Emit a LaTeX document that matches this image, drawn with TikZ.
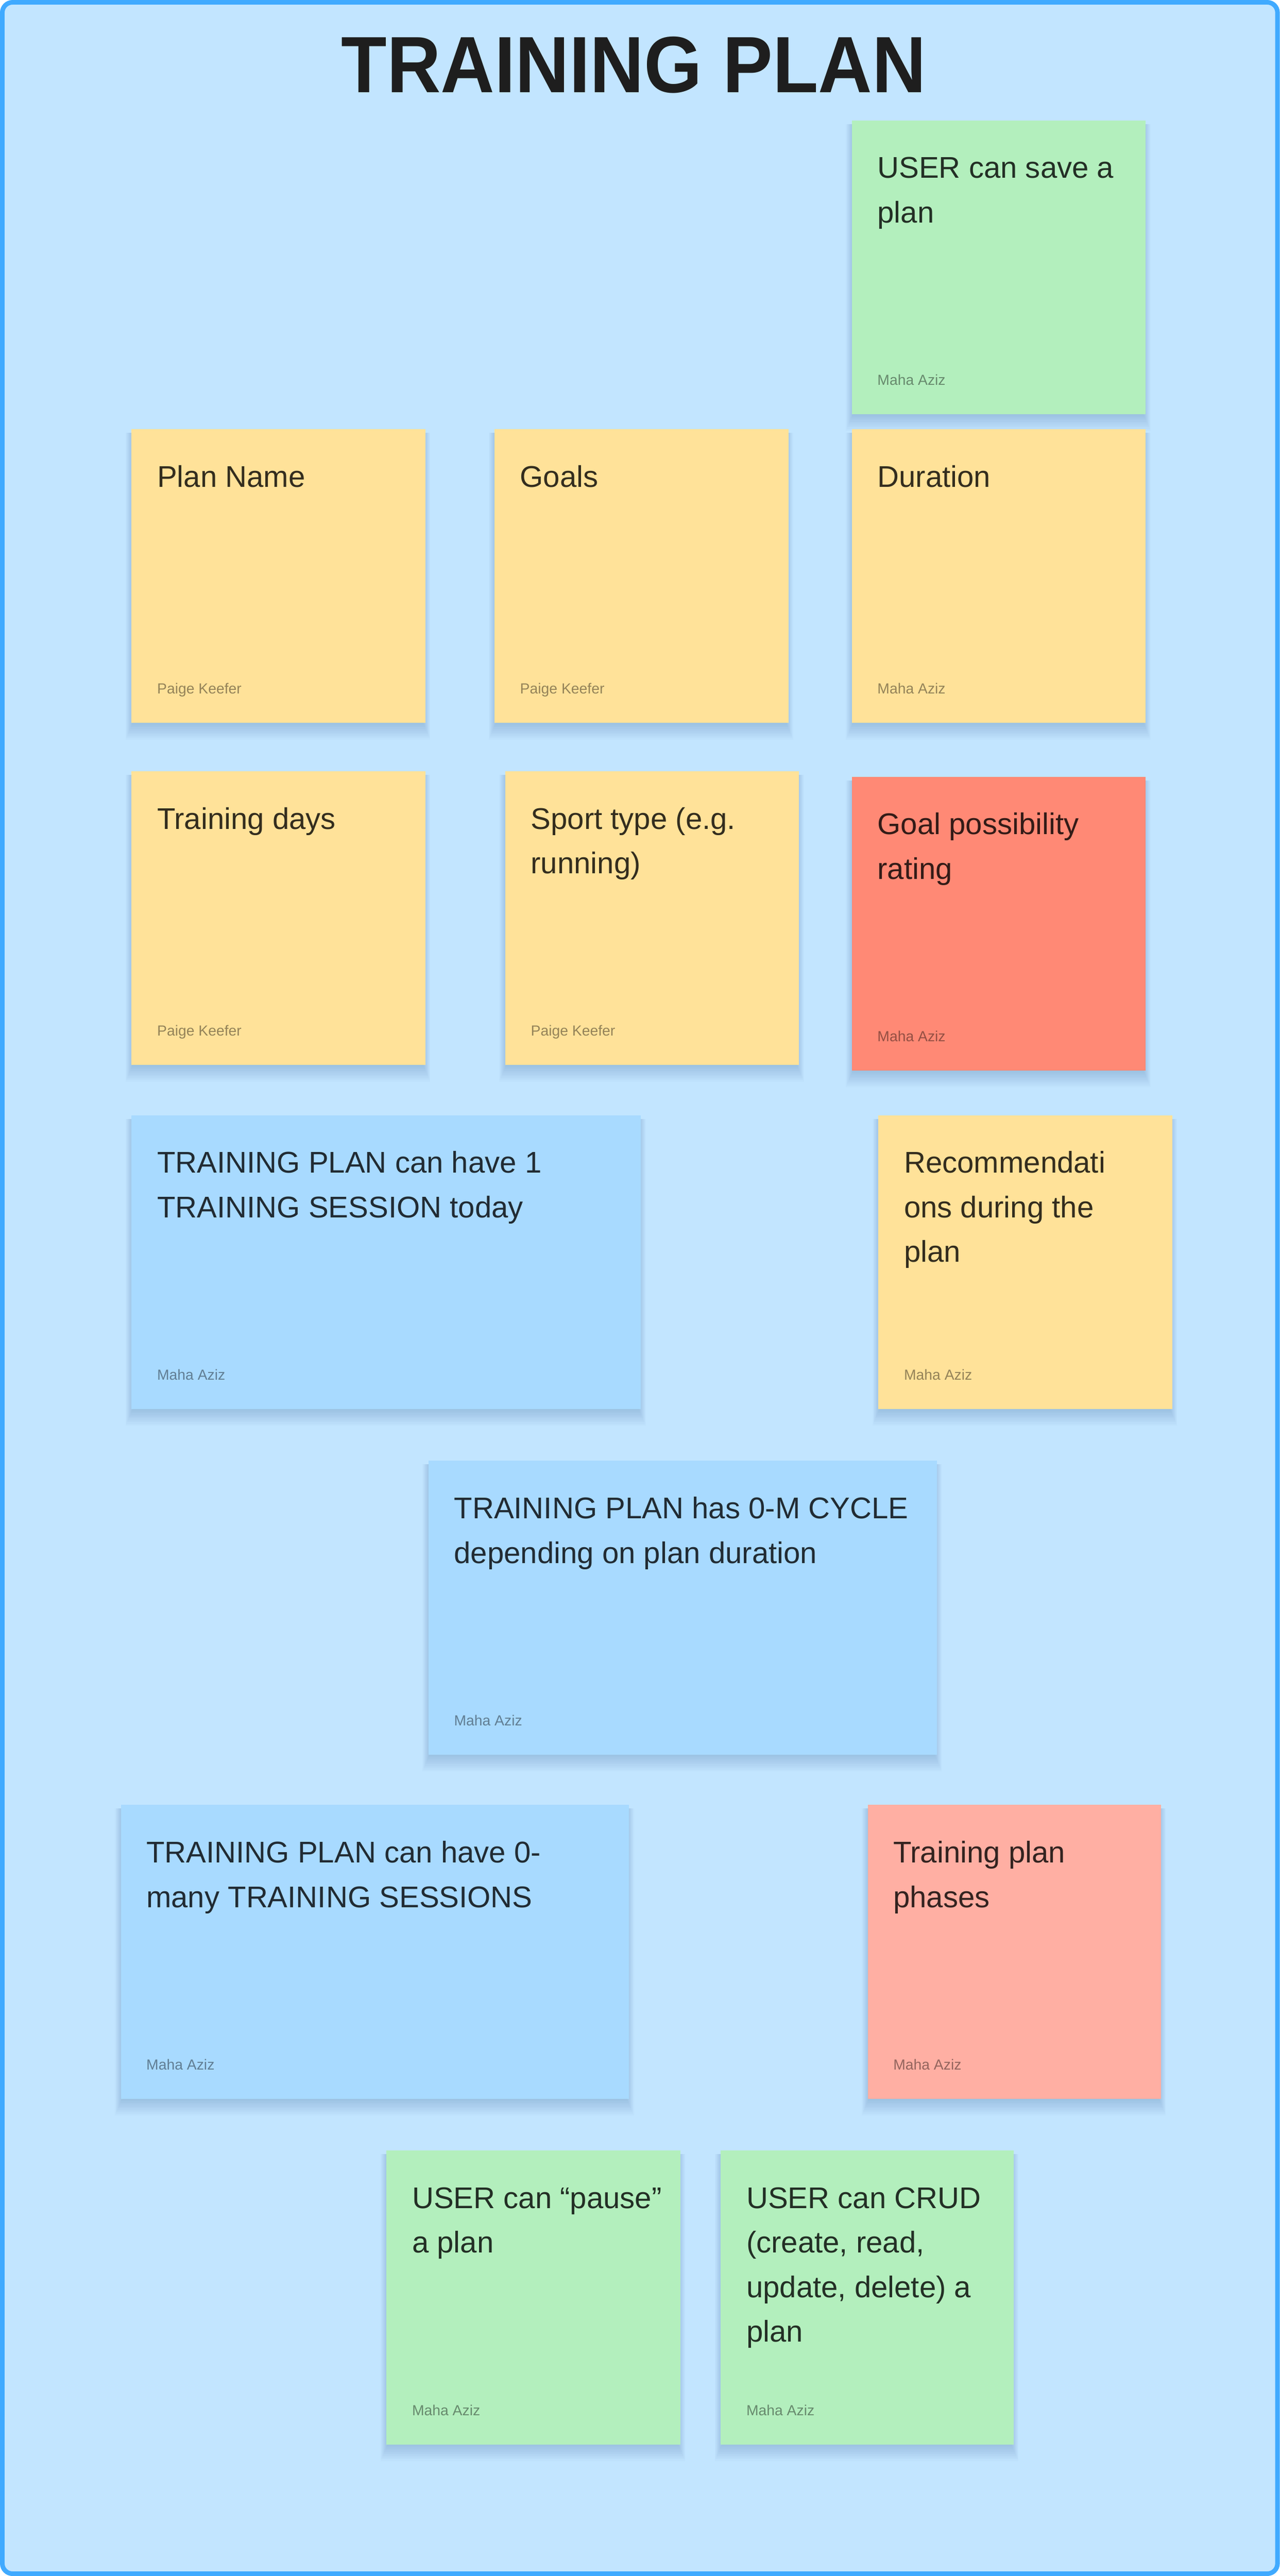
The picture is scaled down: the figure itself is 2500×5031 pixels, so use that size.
\documentclass[tikz,border=0pt]{standalone}
\usepackage{graphicx}
\usepackage{fontspec}
\setmainfont{Liberation Sans}
\definecolor{bgblue}{RGB}{194,229,255}
\definecolor{frameblue}{RGB}{64,170,255}
\definecolor{ylw}{RGB}{255,226,153}
\definecolor{grn}{RGB}{179,239,189}
\definecolor{blu}{RGB}{168,218,255}
\definecolor{redn}{RGB}{255,137,117}
\definecolor{salmon}{RGB}{255,175,163}
\definecolor{titlecol}{RGB}{30,30,30}
\definecolor{shadowcol}{RGB}{30,80,140}
\tikzset{
  note/.style={rectangle, inner sep=0pt, minimum height=114.8pt},
  notetext/.style={inner sep=0pt, align=left, text=black, text opacity=0.8,
    font=\fontsize{11.7pt}{17.4pt}\selectfont},
  author/.style={inner sep=0pt, text=black, text opacity=0.42,
    font=\fontsize{5.7pt}{7pt}\selectfont},
}
\newcommand\shadowlayers[3]{%
  \foreach \k in {0,...,9}{%
    \fill[shadowcol, opacity=0.022] ({#1-1.5*\k+3},{#2+8}) rectangle ({#1+#3+1.5*\k-3},{#2+576+3.5*\k});
  }%
}
\newcommand\sticky[7]{%
  \shadowlayers{#2}{#3}{#4}%
  \node[note, fill=#5, minimum width=#4*0.2pt, anchor=north west] (#1) at (#2,#3) {};
  \node[notetext, anchor=north west] (#1-t) at ([xshift=10pt]#1.north west) {\rule{0pt}{22.6pt}#6};
  \node[author, anchor=base west] (#1-a) at ([xshift=10pt,yshift=11.6pt]#1.south west) {#7};
}
\begin{document}
\begin{tikzpicture}[x=0.2pt,y=-0.2pt]
\useasboundingbox (0,0) rectangle (2500,5031);
\draw[line width=1.8pt, draw=frameblue, fill=bgblue, rounded corners=4pt] (4.5,4.5) rectangle (2495.5,5026.5);
\node[font=\fontsize{31.2pt}{36pt}\selectfont\bfseries, text=titlecol, anchor=base, inner sep=0pt] (title) at (1238,181) {\scalebox{0.935}[1]{TRAINING PLAN}};

\sticky{save}{1663}{234}{574}{grn}{USER can save a\\plan}{Maha Aziz}
\sticky{name}{256}{837}{574}{ylw}{Plan Name}{Paige Keefer}
\sticky{goals}{965}{837}{574}{ylw}{Goals}{Paige Keefer}
\sticky{duration}{1663}{837}{574}{ylw}{Duration}{Maha Aziz}
\sticky{days}{256}{1505}{574}{ylw}{Training days}{Paige Keefer}
\sticky{sport}{986}{1505}{574}{ylw}{Sport type (e.g.\\running)}{Paige Keefer}
\sticky{rating}{1663}{1516}{574}{redn}{Goal possibility\\rating}{Maha Aziz}
\sticky{session}{256}{2177}{995}{blu}{TRAINING PLAN can have 1\\TRAINING SESSION today}{Maha Aziz}
\sticky{recom}{1715}{2177}{574}{ylw}{Recommendati\\ons during the\\plan}{Maha Aziz}
\sticky{cycle}{836}{2852}{993}{blu}{TRAINING PLAN has 0-M CYCLE\\depending on plan duration}{Maha Aziz}
\sticky{sessions}{235}{3524}{993}{blu}{TRAINING PLAN can have 0-\\many TRAINING SESSIONS}{Maha Aziz}
\sticky{phases}{1694}{3524}{573}{salmon}{Training plan\\phases}{Maha Aziz}
\sticky{pause}{754}{4199}{574}{grn}{USER can “pause”\\a plan}{Maha Aziz}
\sticky{crud}{1407}{4199}{572}{grn}{USER can CRUD\\(create, read,\\update, delete) a\\plan}{Maha Aziz}
\end{tikzpicture}
\end{document}
